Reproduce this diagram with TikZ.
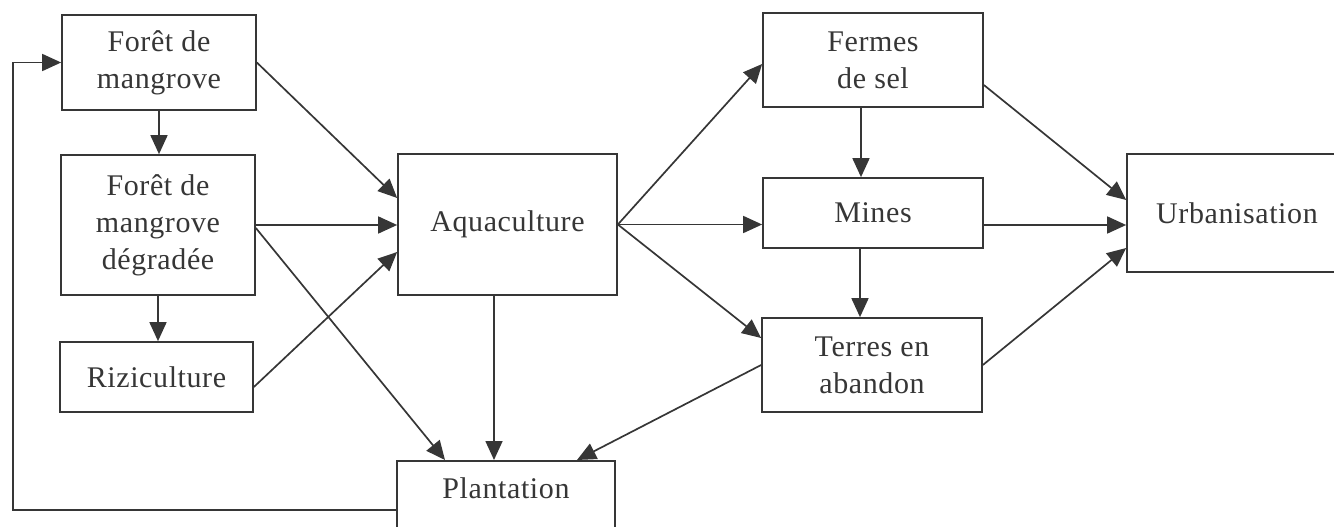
\documentclass[tikz,border=0pt]{standalone}
\usepackage{fontspec}
\setmainfont{Liberation Serif}[LetterSpace=2]
\usetikzlibrary{arrows.meta}
\definecolor{ink}{HTML}{363636}
\begin{document}
\begin{tikzpicture}[x=1pt,y=-1pt,
  box/.style={draw=ink, line width=1.7pt, rectangle, inner sep=0pt, align=center,
    text=ink, font=\fontsize{30}{37}\selectfont},
  flow/.style={draw=ink, line width=1.7pt, -{Triangle[length=19pt,width=17pt]}},
]
\useasboundingbox (0,0) rectangle (1334,527);

% land-use states
\node[box, minimum width=194pt, minimum height=95pt]  (f1)     at (159,62.5)   {Forêt de\\mangrove};
\node[box, minimum width=194pt, minimum height=140pt] (f2)     at (158,225)    {Forêt de\\mangrove\\dégradée};
\node[box, minimum width=193pt, minimum height=70pt]  (riz)    at (156.5,377)  {Riziculture};
\node[box, minimum width=219pt, minimum height=141pt] (aqua)   at (507.5,224.5){Aquaculture};
\node[box, minimum width=218pt, text height=38pt, text depth=60pt, anchor=north] (plant) at (506,460) {Plantation};
\node[box, minimum width=220pt, minimum height=94pt]  (fermes) at (873,60)     {Fermes\\de sel};
\node[box, minimum width=220pt, minimum height=70pt]  (mines)  at (873,213)    {Mines};
\node[box, minimum width=220pt, minimum height=94pt]  (terres) at (872,365)    {Terres en\\abandon};
\node[box, minimum width=220pt, minimum height=118pt] (urb)    at (1237,213)   {Urbanisation};

% transitions on the left
\draw[flow] (f1.south) -- (f1.south |- f2.north);
\draw[flow] (f2.south) -- (f2.south |- riz.north);
\draw[flow] (f1.east) -- ([yshift=26.5pt]aqua.west);
\draw[flow] (f2.east) -- (f2.east -| aqua.west);
\draw[flow] ([yshift=-3pt]f2.east) -- ([xshift=-61pt]plant.north);
\draw[flow] ([yshift=-10pt]riz.east) -- ([yshift=-27.5pt]aqua.west);
\draw[flow] ([xshift=-13.5pt]aqua.south) -- ([xshift=-13.5pt]aqua.south |- plant.north);

% transitions out of aquaculture
\draw[flow] (aqua.east) -- ([yshift=-4pt]fermes.west);
\draw[flow] (aqua.east) -- (aqua.east -| mines.west);
\draw[flow] (aqua.east) -- ([yshift=27pt]terres.west);

% right-hand column
\draw[flow] ([xshift=-12pt]fermes.south) -- ([xshift=-12pt]fermes.south |- mines.north);
\draw[flow] ([xshift=-13pt]mines.south) -- ([xshift=-13pt]mines.south |- terres.north);
\draw[flow] ([yshift=-25pt]fermes.east) -- ([yshift=13pt]urb.west);
\draw[flow] ([yshift=-12pt]mines.east) -- ([yshift=-12pt]urb.west);
\draw[flow] (terres.east) -- ([yshift=-35pt]urb.west);
\draw[flow] (terres.west) -- ([xshift=71pt]plant.north);

% replanting loop back to the mangrove forest
\coordinate (loop) at (13,508);
\draw[flow] (plant.west) -- (plant.west -| loop) |- (f1.west);
\end{tikzpicture}
\end{document}
